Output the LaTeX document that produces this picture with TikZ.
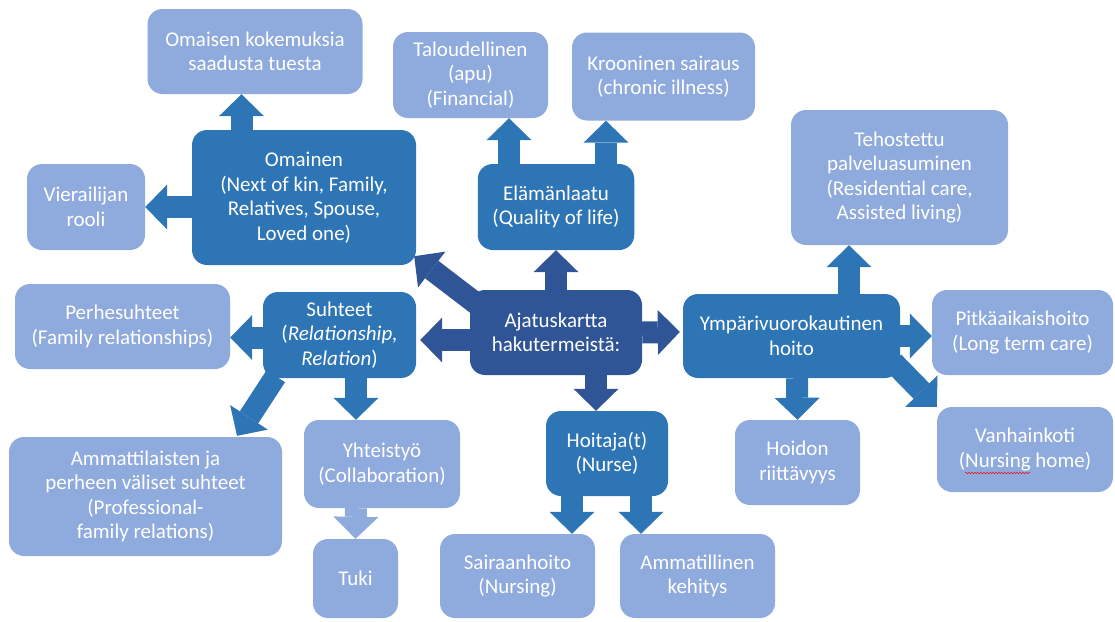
\documentclass[tikz,border=0pt]{standalone}
\usepackage{fontspec}
\setmainfont{Carlito}
\usetikzlibrary{arrows.meta,calc,decorations.pathmorphing}
\definecolor{mapdark}{HTML}{2F5597}
\definecolor{mapmid}{HTML}{2E75B6}
\definecolor{maplight}{HTML}{8FAADC}
\pgfdeclarelayer{back}
\pgfsetlayers{back,main}
\tikzset{
  box/.style={rounded corners=15pt, inner sep=0pt, align=center, text=white,
    font=\fontsize{21}{24.5}\selectfont},
  boxsize/.style 2 args={minimum width=#1pt, minimum height=#2pt},
  darkbox/.style={box, fill=mapdark},
  midbox/.style={box, fill=mapmid},
  lightbox/.style={box, fill=maplight},
  blk/.style={line width=22pt, line cap=butt,
    -{Triangle[width=45pt,length=22pt,line width=0pt]}},
  darkarr/.style={blk, mapdark},
  midarr/.style={blk, mapmid},
  lightarr/.style={blk, maplight}
}
\begin{document}
\begin{tikzpicture}[x=1pt,y=-1pt]
  \useasboundingbox (0,0) rectangle (1115,621);
  \node[darkbox, boxsize={172}{85}] (ajatus) at (556,332.5) {Ajatuskartta\\hakutermeistä:};
  \node[midbox, boxsize={224}{135}] (omainen) at (304,197.5) {Omainen\\(Next of kin, Family,\\Relatives, Spouse,\\Loved one)};
  \node[midbox, boxsize={156.5}{86}] (elama) at (556,207) {Elämänlaatu\\(Quality of life)};
  \node[midbox, boxsize={153}{86}] (suhteet) at (339.5,335) {Suhteet\\(\textit{Relationship,}\\\textit{Relation})};
  \node[midbox, boxsize={217}{84}] (ympari) at (791.5,336) {Ympärivuorokautinen\\hoito};
  \node[midbox, boxsize={122}{85}] (hoitaja) at (607,453.5) {Hoitaja(t)\\(Nurse)};
  \node[lightbox, boxsize={215}{85}] (kokem) at (255,51.5) {Omaisen kokemuksia\\saadusta tuesta};
  \node[lightbox, boxsize={155}{86}] (talous) at (470.5,75) {Taloudellinen\\(apu)\\(Financial)};
  \node[lightbox, boxsize={183}{88}] (kroon) at (663.5,76.5) {Krooninen sairaus\\(chronic illness)};
  \node[lightbox, boxsize={118}{86}] (vieras) at (86,207) {Vierailijan\\rooli};
  \node[lightbox, boxsize={217}{135}] (tehost) at (899.5,177.5) {Tehostettu\\palveluasuminen\\(Residential care,\\Assisted living)};
  \node[lightbox, boxsize={215}{85}] (perhe) at (122.5,326.5) {Perhesuhteet\\(Family relationships)};
  \node[lightbox, boxsize={181}{85}] (pitka) at (1022.5,332.5) {Pitkäaikaishoito\\(Long term care)};
  \node[lightbox, boxsize={273}{119}] (ammatt) at (145.5,496.5) {Ammattilaisten ja\\perheen väliset suhteet\\(Professional-\\family relations)};
  \node[lightbox, boxsize={156}{88}] (yhteis) at (382,464) {Yhteistyö\\(Collaboration)};
  \node[lightbox, boxsize={85}{79}] (tuki) at (355.5,578.5) {Tuki};
  \node[lightbox, boxsize={155}{84}] (sairaan) at (517.5,576) {Sairaanhoito\\(Nursing)};
  \node[lightbox, boxsize={155}{84}] (ammkeh) at (697.5,576) {Ammatillinen\\kehitys};
  \node[lightbox, boxsize={125}{85}] (hoidon) at (797.5,462.5) {Hoidon\\riittävyys};
  \node[lightbox, boxsize={176}{85}] (vanhain) at (1025,449.5) {Vanhainkoti\\(Nursing home)};
  \draw[red, decorate, decoration={snake, amplitude=0.8pt, segment length=3pt}]
    ($(vanhain.center)+(-60,23.5)$) -- ($(vanhain.center)+(5,23.5)$);
  \begin{pgfonlayer}{back}
    \draw[darkarr] (ajatus.north) -- (elama.south);
    \draw[darkarr] ([xshift=8pt,yshift=-15pt]ajatus.north west) -- ([xshift=-2pt,yshift=9pt]omainen.south east);
    \draw[darkarr] ([yshift=-7.5pt]ajatus.west) -- ([xshift=4pt,yshift=-5pt]suhteet.east);
    \draw[darkarr] (ajatus.east) -- ([xshift=-3pt,yshift=4pt]ympari.west);
    \draw[darkarr] ([xshift=40pt]ajatus.south) -- ([xshift=-11pt]hoitaja.north);
    \draw[midarr] ([xshift=-62.5pt]omainen.north) -- ([xshift=-13.5pt]kokem.south);
    \draw[midarr] ([yshift=-9.5pt]omainen.west) -- (vieras.east);
    \draw[midarr] ([xshift=-47pt]elama.north) -- ([xshift=38.5pt]talous.south);
    \draw[midarr] ([xshift=50pt]elama.north) -- ([xshift=-57.5pt]kroon.south);
    \draw[midarr] ([yshift=-2.5pt]suhteet.west) -- ([yshift=-11pt]perhe.east);
    \draw[midarr] ([xshift=13pt,yshift=2pt]suhteet.south west) -- ([xshift=91.5pt,yshift=1pt]ammatt.north);
    \draw[midarr] ([xshift=16.5pt]suhteet.south) -- ([xshift=-26pt]yhteis.north);
    \draw[lightarr] ([xshift=-26pt]yhteis.south) -- (tuki.north);
    \draw[midarr] ([xshift=-35pt]hoitaja.south) -- ([xshift=54.5pt]sairaan.north);
    \draw[midarr] ([xshift=34pt]hoitaja.south) -- ([xshift=-56.5pt]ammkeh.north);
    \draw[midarr] ([xshift=57.5pt]ympari.north) -- ([xshift=-50.5pt]tehost.south);
    \draw[midarr] (ympari.east) -- ([yshift=-3.5pt]pitka.west);
    \draw[midarr] ([xshift=5.5pt]ympari.south) -- (hoidon.north);
    \draw[midarr] ([xshift=-7pt,yshift=16pt]ympari.south east) -- (vanhain.north west);
  \end{pgfonlayer}
\end{tikzpicture}
\end{document}
